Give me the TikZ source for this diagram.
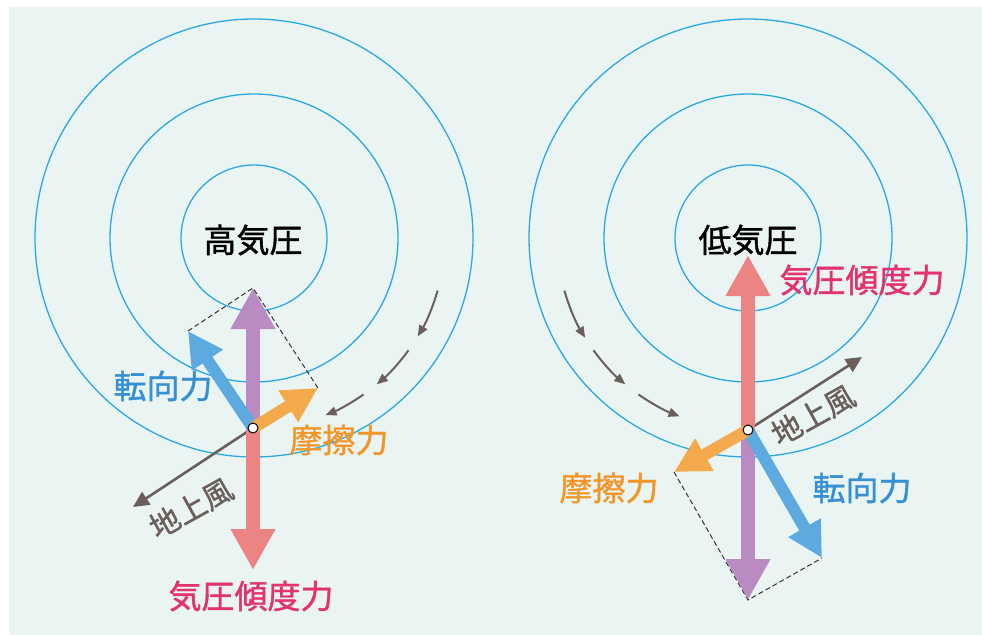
\documentclass[tikz,border=0pt]{standalone}
\usepackage{fontspec}
\setmainfont{Noto Sans CJK JP}[FakeBold=1.2]
\usetikzlibrary{arrows.meta}
\definecolor{bgc}{HTML}{EAF5F3}
\definecolor{circc}{HTML}{2AA8E2}
\definecolor{redarr}{HTML}{EC8484}
\definecolor{purparr}{HTML}{B98BC2}
\definecolor{bluearr}{HTML}{5CAAE0}
\definecolor{orarr}{HTML}{F3A94C}
\definecolor{grayarr}{HTML}{6B5F5B}
\definecolor{pinktxt}{HTML}{E2336E}
\definecolor{ortxt}{HTML}{F2962A}
\definecolor{bluetxt}{HTML}{3590D4}
\tikzset{
  circ/.style={draw=circc, line width=1.3pt},
  fatv/.style={line width=14pt, -{Triangle[width=42pt,length=41pt]}},
  fatd/.style={line width=12pt, -{Triangle[width=35pt,length=35pt]}},
  windarr/.style={draw=grayarr, line width=2.6pt, -{Triangle[width=15pt,length=16pt]}},
  flowarr/.style={draw=grayarr, line width=2pt, -{Triangle[width=9pt,length=11pt]}},
  guide/.style={draw=black!80, line width=1pt, dash pattern=on 5pt off 3pt},
  origin/.style={circle, draw=black, fill=white, line width=1pt, inner sep=0pt, minimum size=10pt},
  lbl/.style={font=\fontsize{33}{33}\selectfont, inner sep=0pt},
  wlbl/.style={font=\fontsize{30}{30}\selectfont, inner sep=0pt, text=grayarr}
}
\begin{document}
\begin{tikzpicture}[x=1pt,y=-1pt]
\useasboundingbox (0,0) rectangle (982,635);
\fill[white] (0,0) rectangle (982,635);
\fill[bgc] (9,7) rectangle (982,635);
% ---------- left: high pressure ----------
\foreach \r in {73,144,219} \draw[circ] (254,238) circle[radius=\r];
\foreach \a/\b in {16/31,36/50,55/68}
  \draw[flowarr] (254,238) ++(\a:191) arc[start angle=\a, end angle=\b, radius=191];
\node[origin] (o1) at (253,428) {};
\coordinate (p1) at (253,288);
\coordinate (g1) at (253,570);
\coordinate (c1) at (188,331);
\coordinate (f1) at (318,388);
\coordinate (w1) at (133,507);
\draw[guide] (c1) -- (p1) -- (f1);
\draw[windarr] (o1.center) -- (w1);
\draw[fatv, redarr] (o1.center) -- (g1);
\draw[fatv, purparr] (o1.center) -- (p1);
\draw[fatd, bluearr] (o1.center) -- (c1);
\draw[fatd, orarr] (o1.center) -- (f1);
\node[origin] at (o1) {};
\node[lbl] (t1) at (253,240) {高気圧};
\node[lbl, text=bluetxt] (cl1) at (163,386) {転向力};
\node[lbl, text=ortxt] (fl1) at (339,440) {摩擦力};
\node[lbl, text=pinktxt] (gl1) at (251,596) {気圧傾度力};
\node[wlbl, rotate=29] (wl1) at (191,508) {地上風};
% ---------- right: low pressure ----------
\foreach \r in {73,144,219} \draw[circ] (748,238) circle[radius=\r];
\foreach \a/\b in {164/148.5,144/130,125/111}
  \draw[flowarr] (748,238) ++(\a:191) arc[start angle=\a, end angle=\b, radius=191];
\node[origin] (o2) at (748,430) {};
\coordinate (g2) at (748,255);
\coordinate (p2) at (748,600);
\coordinate (c2) at (822,558);
\coordinate (f2) at (674,472);
\coordinate (w2) at (862,357);
\draw[guide] (f2) -- (p2) -- (c2);
\draw[windarr] (o2.center) -- (w2);
\draw[fatv, redarr] (o2.center) -- (g2);
\draw[fatv, purparr] (o2.center) -- (p2);
\draw[fatd, bluearr] (o2.center) -- (c2);
\draw[fatd, orarr] (o2.center) -- (f2);
\node[origin] at (o2) {};
\node[lbl] (t2) at (748,240) {低気圧};
\node[lbl, text=pinktxt] (gl2) at (862,280) {気圧傾度力};
\node[lbl, text=bluetxt] (cl2) at (862,488) {転向力};
\node[lbl, text=ortxt] (fl2) at (609,488) {摩擦力};
\node[wlbl, rotate=29] (wl2) at (813,415) {地上風};
\end{tikzpicture}
\end{document}
